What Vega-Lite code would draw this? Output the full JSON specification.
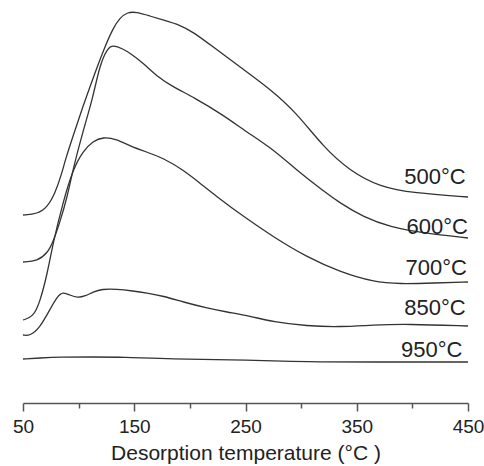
{
  "$schema": "https://vega.github.io/schema/vega-lite/v6.json",
  "width": 445,
  "height": 403,
  "autosize": {"type": "none"},
  "padding": {"left": 23, "top": 0, "right": 16, "bottom": 63},
  "background": "white",
  "config": {
    "view": {"stroke": null},
    "font": "Liberation Sans"
  },
  "datasets": {
    "curves": [
      {"series": "500", "t": 50, "s": 188},
      {"series": "500", "t": 63, "s": 189},
      {"series": "500", "t": 72, "s": 196},
      {"series": "500", "t": 79, "s": 210},
      {"series": "500", "t": 85, "s": 230},
      {"series": "500", "t": 88, "s": 243},
      {"series": "500", "t": 95, "s": 267},
      {"series": "500", "t": 104, "s": 297},
      {"series": "500", "t": 113, "s": 325},
      {"series": "500", "t": 122, "s": 352},
      {"series": "500", "t": 131, "s": 375},
      {"series": "500", "t": 137, "s": 385},
      {"series": "500", "t": 144, "s": 391},
      {"series": "500", "t": 152, "s": 391},
      {"series": "500", "t": 164, "s": 387},
      {"series": "500", "t": 176, "s": 383},
      {"series": "500", "t": 191, "s": 378},
      {"series": "500", "t": 203, "s": 371},
      {"series": "500", "t": 221, "s": 356},
      {"series": "500", "t": 245, "s": 336},
      {"series": "500", "t": 272, "s": 314},
      {"series": "500", "t": 296, "s": 290},
      {"series": "500", "t": 320, "s": 256},
      {"series": "500", "t": 344, "s": 232},
      {"series": "500", "t": 371, "s": 216},
      {"series": "500", "t": 401, "s": 210},
      {"series": "500", "t": 450, "s": 206},
      {"series": "600", "t": 50, "s": 141},
      {"series": "600", "t": 63, "s": 142},
      {"series": "600", "t": 72, "s": 150},
      {"series": "600", "t": 77, "s": 161},
      {"series": "600", "t": 83, "s": 180},
      {"series": "600", "t": 90, "s": 207},
      {"series": "600", "t": 95, "s": 234},
      {"series": "600", "t": 104, "s": 272},
      {"series": "600", "t": 113, "s": 306},
      {"series": "600", "t": 119, "s": 338},
      {"series": "600", "t": 126, "s": 355},
      {"series": "600", "t": 131, "s": 358},
      {"series": "600", "t": 140, "s": 354},
      {"series": "600", "t": 146, "s": 350},
      {"series": "600", "t": 158, "s": 340},
      {"series": "600", "t": 170, "s": 327},
      {"series": "600", "t": 185, "s": 316},
      {"series": "600", "t": 203, "s": 306},
      {"series": "600", "t": 230, "s": 288},
      {"series": "600", "t": 251, "s": 271},
      {"series": "600", "t": 272, "s": 256},
      {"series": "600", "t": 296, "s": 233},
      {"series": "600", "t": 320, "s": 212},
      {"series": "600", "t": 335, "s": 200},
      {"series": "600", "t": 356, "s": 186},
      {"series": "600", "t": 380, "s": 176},
      {"series": "600", "t": 410, "s": 170},
      {"series": "600", "t": 450, "s": 165},
      {"series": "700", "t": 50, "s": 83},
      {"series": "700", "t": 59, "s": 86},
      {"series": "700", "t": 65, "s": 100},
      {"series": "700", "t": 72, "s": 130},
      {"series": "700", "t": 77, "s": 160},
      {"series": "700", "t": 86, "s": 201},
      {"series": "700", "t": 95, "s": 234},
      {"series": "700", "t": 104, "s": 252},
      {"series": "700", "t": 113, "s": 262},
      {"series": "700", "t": 122, "s": 266},
      {"series": "700", "t": 134, "s": 264},
      {"series": "700", "t": 146, "s": 257},
      {"series": "700", "t": 161, "s": 251},
      {"series": "700", "t": 176, "s": 245},
      {"series": "700", "t": 194, "s": 233},
      {"series": "700", "t": 210, "s": 219},
      {"series": "700", "t": 227, "s": 204},
      {"series": "700", "t": 245, "s": 189},
      {"series": "700", "t": 275, "s": 166},
      {"series": "700", "t": 305, "s": 146},
      {"series": "700", "t": 335, "s": 131},
      {"series": "700", "t": 365, "s": 121},
      {"series": "700", "t": 389, "s": 119},
      {"series": "700", "t": 420, "s": 120},
      {"series": "700", "t": 450, "s": 121},
      {"series": "850", "t": 50, "s": 68},
      {"series": "850", "t": 56, "s": 67},
      {"series": "850", "t": 65, "s": 75},
      {"series": "850", "t": 74, "s": 93},
      {"series": "850", "t": 81, "s": 107},
      {"series": "850", "t": 86, "s": 111},
      {"series": "850", "t": 92, "s": 108},
      {"series": "850", "t": 99, "s": 105},
      {"series": "850", "t": 106, "s": 107},
      {"series": "850", "t": 113, "s": 111},
      {"series": "850", "t": 121, "s": 114},
      {"series": "850", "t": 134, "s": 114},
      {"series": "850", "t": 149, "s": 112},
      {"series": "850", "t": 161, "s": 110},
      {"series": "850", "t": 176, "s": 107},
      {"series": "850", "t": 194, "s": 101},
      {"series": "850", "t": 215, "s": 95},
      {"series": "850", "t": 233, "s": 91},
      {"series": "850", "t": 254, "s": 87},
      {"series": "850", "t": 275, "s": 81},
      {"series": "850", "t": 305, "s": 77},
      {"series": "850", "t": 335, "s": 76},
      {"series": "850", "t": 365, "s": 78},
      {"series": "850", "t": 395, "s": 79},
      {"series": "850", "t": 450, "s": 77},
      {"series": "950", "t": 50, "s": 44},
      {"series": "950", "t": 65, "s": 45},
      {"series": "950", "t": 83, "s": 46},
      {"series": "950", "t": 113, "s": 46},
      {"series": "950", "t": 140, "s": 46},
      {"series": "950", "t": 180, "s": 44},
      {"series": "950", "t": 254, "s": 43},
      {"series": "950", "t": 305, "s": 41},
      {"series": "950", "t": 365, "s": 41},
      {"series": "950", "t": 450, "s": 41}
    ],
    "labels": [
      {"label": "500°C", "t": 448, "s": 226},
      {"label": "600°C", "t": 450, "s": 176},
      {"label": "700°C", "t": 449, "s": 135},
      {"label": "850°C", "t": 448, "s": 95},
      {"label": "950°C", "t": 445, "s": 53}
    ]
  },
  "layer": [
    {
      "data": {"name": "curves"},
      "mark": {"type": "line", "interpolate": "basis", "stroke": "#333333", "strokeWidth": 1.3},
      "encoding": {
        "x": {
          "field": "t", "type": "quantitative",
          "scale": {"domain": [50, 450], "nice": false, "zero": false},
          "axis": {
            "values": [50, 100, 150, 200, 250, 300, 350, 400, 450],
            "labelExpr": "datum.value % 100 === 50 ? datum.label : ''",
            "title": "Desorption temperature (°C )",
            "titleFont": "Liberation Sans",
            "titleFontSize": 21,
            "titleFontWeight": "normal",
            "titleColor": "#222",
            "titlePadding": 6,
            "labelFont": "Liberation Sans",
            "labelFontSize": 19,
            "labelColor": "#222",
            "labelPadding": 6,
            "labelFlush": false,
            "labelOverlap": false,
            "domainColor": "#555",
            "domainWidth": 1.5,
            "tickColor": "#555",
            "tickWidth": 1.5,
            "tickSize": {"condition": {"test": "datum.value % 100 === 50", "value": 8}, "value": 5},
            "grid": false
          }
        },
        "y": {
          "field": "s", "type": "quantitative",
          "scale": {"domain": [0, 403], "nice": false},
          "axis": null
        },
        "detail": {"field": "series"}
      }
    },
    {
      "data": {"name": "labels"},
      "mark": {"type": "text", "align": "right", "baseline": "middle", "font": "Liberation Sans", "fontSize": 22, "color": "#222"},
      "encoding": {
        "x": {"field": "t", "type": "quantitative"},
        "y": {"field": "s", "type": "quantitative"},
        "text": {"field": "label"}
      }
    }
  ]
}
